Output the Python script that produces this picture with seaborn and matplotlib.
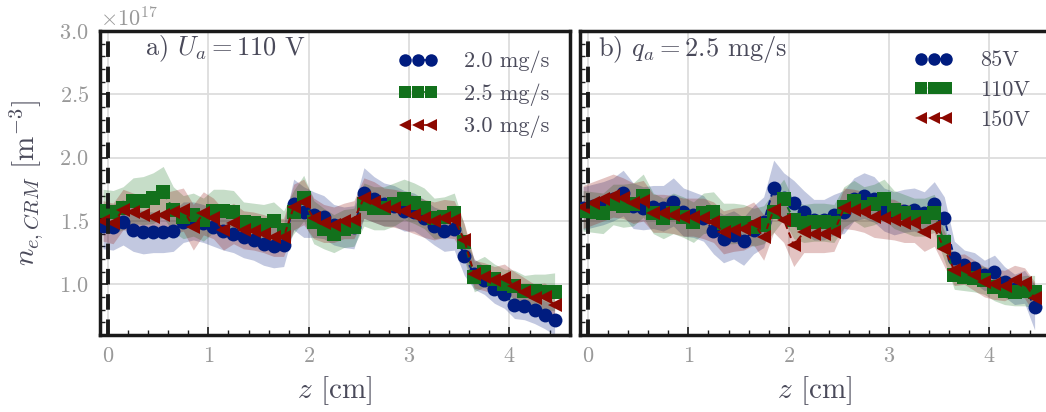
import numpy as np
import pandas as pd
import matplotlib
matplotlib.use("Agg")
import matplotlib.pyplot as plt
import seaborn as sns
from matplotlib.lines import Line2D
from matplotlib.ticker import MultipleLocator, AutoMinorLocator

# axial positions [cm]
z = [-0.05, 0.05, 0.15, 0.25, 0.35, 0.45, 0.55, 0.65, 0.75, 0.85,
     0.95, 1.05, 1.15, 1.25, 1.35, 1.45, 1.55, 1.65, 1.75, 1.85,
     1.95, 2.05, 2.15, 2.25, 2.35, 2.45, 2.55, 2.65, 2.75, 2.85,
     2.95, 3.05, 3.15, 3.25, 3.35, 3.45, 3.55, 3.65, 3.75, 3.85,
     3.95, 4.05, 4.15, 4.25, 4.35, 4.45]

# panel a) U_a = 110 V, n_e in 1e17 m^-3
labels_a = ["2.0 mg/s", "2.5 mg/s", "3.0 mg/s"]
ne_a_20 = [1.46, 1.45, 1.49, 1.43, 1.41, 1.41, 1.41, 1.42, 1.49, 1.50,
           1.48, 1.45, 1.42, 1.40, 1.37, 1.35, 1.32, 1.30, 1.31, 1.63,
           1.57, 1.55, 1.53, 1.47, 1.45, 1.45, 1.72, 1.67, 1.63, 1.62,
           1.58, 1.57, 1.52, 1.46, 1.42, 1.44, 1.22, 1.08, 1.03, 0.96,
           0.92, 0.84, 0.83, 0.80, 0.76, 0.72]
ne_a_25 = [1.58, 1.57, 1.60, 1.66, 1.66, 1.68, 1.73, 1.59, 1.53, 1.55,
           1.51, 1.58, 1.58, 1.57, 1.49, 1.48, 1.47, 1.50, 1.43, 1.57,
           1.68, 1.49, 1.44, 1.40, 1.44, 1.45, 1.63, 1.60, 1.60, 1.63,
           1.67, 1.64, 1.60, 1.52, 1.53, 1.56, 1.33, 1.06, 1.10, 1.04,
           1.00, 0.99, 0.95, 0.95, 0.94, 0.94]
ne_a_30 = [1.50, 1.48, 1.59, 1.57, 1.55, 1.53, 1.55, 1.57, 1.59, 1.45,
           1.56, 1.52, 1.43, 1.48, 1.43, 1.42, 1.40, 1.37, 1.37, 1.61,
           1.65, 1.52, 1.48, 1.47, 1.50, 1.51, 1.68, 1.65, 1.61, 1.60,
           1.58, 1.55, 1.52, 1.50, 1.52, 1.51, 1.35, 1.08, 1.06, 1.03,
           1.05, 0.99, 0.94, 0.89, 0.90, 0.84]
sd_a_20 = [0.18, 0.18, 0.18, 0.17, 0.17, 0.16, 0.16, 0.16, 0.16, 0.15,
           0.15, 0.15, 0.15, 0.15, 0.16, 0.16, 0.17, 0.17, 0.17, 0.20,
           0.20, 0.18, 0.17, 0.16, 0.16, 0.17, 0.20, 0.18, 0.17, 0.16,
           0.16, 0.15, 0.15, 0.15, 0.16, 0.17, 0.15, 0.12, 0.11, 0.11,
           0.11, 0.11, 0.11, 0.11, 0.11, 0.12]
sd_a_25 = [0.17, 0.17, 0.17, 0.18, 0.19, 0.20, 0.20, 0.18, 0.17, 0.17,
           0.17, 0.17, 0.17, 0.17, 0.16, 0.16, 0.16, 0.15, 0.15, 0.17,
           0.18, 0.17, 0.16, 0.15, 0.15, 0.15, 0.17, 0.17, 0.17, 0.17,
           0.16, 0.16, 0.16, 0.16, 0.16, 0.16, 0.14, 0.12, 0.12, 0.12,
           0.12, 0.12, 0.12, 0.13, 0.14, 0.15]
sd_a_30 = [0.16, 0.16, 0.16, 0.15, 0.15, 0.16, 0.17, 0.17, 0.17, 0.18,
           0.17, 0.16, 0.16, 0.16, 0.15, 0.15, 0.15, 0.15, 0.15, 0.18,
           0.18, 0.16, 0.15, 0.14, 0.14, 0.15, 0.16, 0.16, 0.15, 0.15,
           0.15, 0.15, 0.15, 0.15, 0.15, 0.15, 0.13, 0.11, 0.11, 0.11,
           0.11, 0.11, 0.11, 0.11, 0.11, 0.12]

# panel b) q_a = 2.5 mg/s
labels_b = ["85V", "110V", "150V"]
ne_b_85 = [1.60, 1.62, 1.64, 1.67, 1.72, 1.62, 1.60, 1.61, 1.60, 1.65,
           1.57, 1.55, 1.52, 1.42, 1.36, 1.39, 1.34, 1.43, 1.49, 1.76,
           1.68, 1.64, 1.57, 1.51, 1.51, 1.55, 1.57, 1.67, 1.70, 1.67,
           1.59, 1.56, 1.58, 1.59, 1.56, 1.63, 1.52, 1.21, 1.15, 1.13,
           1.07, 1.10, 1.02, 0.96, 0.98, 0.82]
ne_b_110 = [1.58, 1.57, 1.56, 1.63, 1.62, 1.63, 1.70, 1.56, 1.52, 1.56,
            1.53, 1.49, 1.56, 1.57, 1.48, 1.48, 1.48, 1.45, 1.47, 1.57,
            1.67, 1.51, 1.48, 1.49, 1.49, 1.48, 1.61, 1.66, 1.61, 1.63,
            1.67, 1.59, 1.56, 1.53, 1.53, 1.56, 1.33, 1.07, 1.06, 1.05,
            1.03, 0.98, 0.95, 0.94, 0.95, 0.94]
ne_b_150 = [1.61, 1.64, 1.67, 1.70, 1.68, 1.64, 1.66, 1.56, 1.56, 1.55,
            1.53, 1.53, 1.52, 1.49, 1.41, 1.43, 1.44, 1.48, 1.37, 1.59,
            1.51, 1.31, 1.41, 1.40, 1.40, 1.41, 1.60, 1.59, 1.57, 1.53,
            1.52, 1.51, 1.48, 1.48, 1.41, 1.45, 1.28, 1.11, 1.12, 1.07,
            1.02, 1.00, 0.99, 1.03, 1.01, 0.89]
sd_b_85 = [0.17, 0.17, 0.17, 0.17, 0.18, 0.18, 0.17, 0.17, 0.18, 0.19,
           0.19, 0.18, 0.18, 0.18, 0.19, 0.19, 0.19, 0.19, 0.20, 0.22,
           0.20, 0.18, 0.17, 0.16, 0.16, 0.16, 0.17, 0.17, 0.18, 0.18,
           0.17, 0.17, 0.17, 0.17, 0.17, 0.18, 0.17, 0.13, 0.12, 0.12,
           0.12, 0.13, 0.12, 0.12, 0.13, 0.18]
sd_b_110 = [0.16, 0.16, 0.16, 0.16, 0.17, 0.17, 0.17, 0.16, 0.16, 0.16,
            0.16, 0.16, 0.16, 0.16, 0.16, 0.16, 0.15, 0.15, 0.15, 0.16,
            0.16, 0.15, 0.15, 0.15, 0.15, 0.15, 0.16, 0.16, 0.16, 0.16,
            0.16, 0.15, 0.15, 0.15, 0.15, 0.15, 0.14, 0.11, 0.11, 0.11,
            0.11, 0.11, 0.11, 0.11, 0.12, 0.13]
sd_b_150 = [0.17, 0.17, 0.17, 0.17, 0.16, 0.16, 0.16, 0.15, 0.15, 0.15,
            0.15, 0.15, 0.16, 0.16, 0.17, 0.17, 0.17, 0.17, 0.18, 0.18,
            0.18, 0.17, 0.16, 0.15, 0.15, 0.15, 0.16, 0.16, 0.16, 0.16,
            0.16, 0.16, 0.15, 0.15, 0.15, 0.15, 0.14, 0.12, 0.12, 0.12,
            0.12, 0.12, 0.12, 0.12, 0.12, 0.13]

sns.set_theme(style="whitegrid")
plt.rcParams["font.family"] = ["cmr10"]
plt.rcParams["mathtext.fontset"] = "cm"
plt.rcParams["axes.formatter.use_mathtext"] = True
plt.rcParams["axes.unicode_minus"] = False

dark = sns.color_palette("dark")
colors = [dark[0], dark[2], dark[3]]
markers = ["o", "s", "<"]
text_c = "#4a4a5a"
tick_c = "#999999"
scale = 1e17


def draw_panel(ax, labels, means, stds, title, title_x):
    frames = []
    for lab, m in zip(labels, means):
        frames.append(pd.DataFrame({"z": z, "ne": np.array(m) * scale, "label": lab}))
    df = pd.concat(frames, ignore_index=True)

    # +- 1 sigma bands
    for m, s, c in zip(means, stds, colors):
        m = np.array(m) * scale
        s = np.array(s) * scale
        ax.fill_between(z, m - s, m + s, color=c, alpha=0.24, lw=0, zorder=1)

    sns.lineplot(data=df, x="z", y="ne", hue="label", style="label",
                 hue_order=labels, style_order=labels,
                 palette=dict(zip(labels, colors)),
                 markers=dict(zip(labels, markers)),
                 dashes={lab: (3, 2) for lab in labels},
                 markersize=10, markeredgewidth=0, lw=1.4,
                 errorbar=None, legend=False, ax=ax, zorder=3)

    ax.axvline(0, color="k", ls=(0, (4, 2.5)), lw=2.8, zorder=4)

    handles = [Line2D([], [], color=c, marker=mk, ls="--", lw=1.2, ms=9, mew=0)
               for c, mk in zip(colors, markers)]
    ax.legend(handles, labels, loc="upper right", frameon=False, numpoints=3,
              fontsize=16, handlelength=1.75, handletextpad=1.2,
              labelspacing=0.45, labelcolor=text_c)

    ax.text(title_x, 0.94, title, transform=ax.transAxes, fontsize=19,
            color=text_c, va="center", ha="left")

    ax.set_xlim(-0.08, 4.6)
    ax.set_ylim(0.6 * scale, 3.0 * scale)
    ax.xaxis.set_major_locator(MultipleLocator(1))
    ax.yaxis.set_major_locator(MultipleLocator(0.5 * scale))
    ax.xaxis.set_minor_locator(AutoMinorLocator(5))
    ax.yaxis.set_minor_locator(AutoMinorLocator(5))
    ax.tick_params(which="both", direction="in", bottom=True, left=True,
                   color="k", labelcolor=tick_c, labelsize=16)
    ax.tick_params(which="major", length=6, width=1.2, pad=8)
    ax.tick_params(which="minor", length=3.5, width=1.0)
    ax.grid(True, which="major", color="#dddddd", lw=1.3)
    ax.set_axisbelow(True)
    for sp in ax.spines.values():
        sp.set_color("k")
        sp.set_linewidth(2.5)
    ax.set_xlabel(r"$z$ [cm]", fontsize=21, color=text_c, labelpad=6)
    ax.set_ylabel("")


fig = plt.figure(figsize=(10.46, 4.12), dpi=100)
ax_a = fig.add_axes([0.0956, 0.187, 0.449, 0.738])
ax_b = fig.add_axes([0.5545, 0.187, 0.449, 0.738], sharey=ax_a)

draw_panel(ax_a, labels_a, [ne_a_20, ne_a_25, ne_a_30],
           [sd_a_20, sd_a_25, sd_a_30], r"a) $U_a = 110$ V", 0.095)
draw_panel(ax_b, labels_b, [ne_b_85, ne_b_110, ne_b_150],
           [sd_b_85, sd_b_110, sd_b_150], r"b) $q_a = 2.5$ mg/s", 0.038)

ax_a.set_ylabel(r"$n_{e,CRM}$ [m$^{-3}$]", fontsize=21, color=text_c, labelpad=10)
ax_a.yaxis.get_offset_text().set_fontsize(16)
ax_a.yaxis.get_offset_text().set_color(tick_c)
ax_b.tick_params(axis="y", labelleft=False)

fig.savefig("out.png", dpi=100)
